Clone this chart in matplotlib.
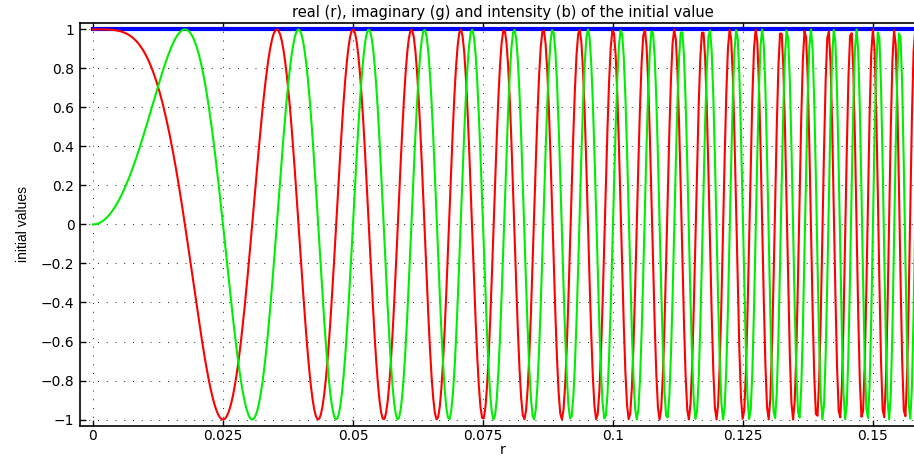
import numpy as np
import matplotlib.pyplot as plt

plt.rcParams['font.family'] = ['DejaVu Sans']

# chirp initial value u(r) = exp(i*pi*(r/r0)^2), real part reaches -1 first at r0
r0 = 0.025
r_end = 0.16
n_samples = 512

xticks = [0, 0.025, 0.05, 0.075, 0.1, 0.125, 0.15]
xtick_labels = ['0', '0.025', '0.05', '0.075', '0.1', '0.125', '0.15']
yticks = [-1, -0.8, -0.6, -0.4, -0.2, 0, 0.2, 0.4, 0.6, 0.8, 1]
ytick_labels = ['\u22121', '\u22120.8', '\u22120.6', '\u22120.4', '\u22120.2', '0',
                '0.2', '0.4', '0.6', '0.8', '1']

r = np.linspace(0, r_end, n_samples)
u = np.exp(1j * np.pi * (r / r0) ** 2)

fig = plt.figure(figsize=(9.14, 4.58), dpi=100)
ax = fig.add_axes([0.0875, 0.0699, 0.9245, 0.880])

ax.plot(r, np.abs(u) ** 2, color='#0000ff', lw=3)
ax.plot(r, u.real, color='#ff0000', lw=1.5)
ax.plot(r, u.imag, color='#00ee00', lw=1.5)

ax.set_xlim(-0.0025, r_end)
ax.set_ylim(-1.033, 1.033)
ax.set_xticks(xticks)
ax.set_xticklabels(xtick_labels)
ax.set_yticks(yticks)
ax.set_yticklabels(ytick_labels)
ax.tick_params(direction='in', length=4, width=1, labelsize=10, top=True, right=True, pad=4)
ax.tick_params(axis='x', pad=2)
ax.grid(True, linestyle=(0, (1, 8)), color='#222222', lw=0.7)
for s in ax.spines.values():
    s.set_linewidth(1.2)

ax.set_title('real (r), imaginary (g) and intensity (b) of the initial value', fontsize=10.5, pad=4)
ax.set_xlabel('r', fontsize=10, labelpad=0)
ax.set_ylabel('initial values', fontsize=10,
              family=['Liberation Sans Narrow', 'Liberation Sans'], labelpad=8)

plt.savefig('out.png', dpi=100)
